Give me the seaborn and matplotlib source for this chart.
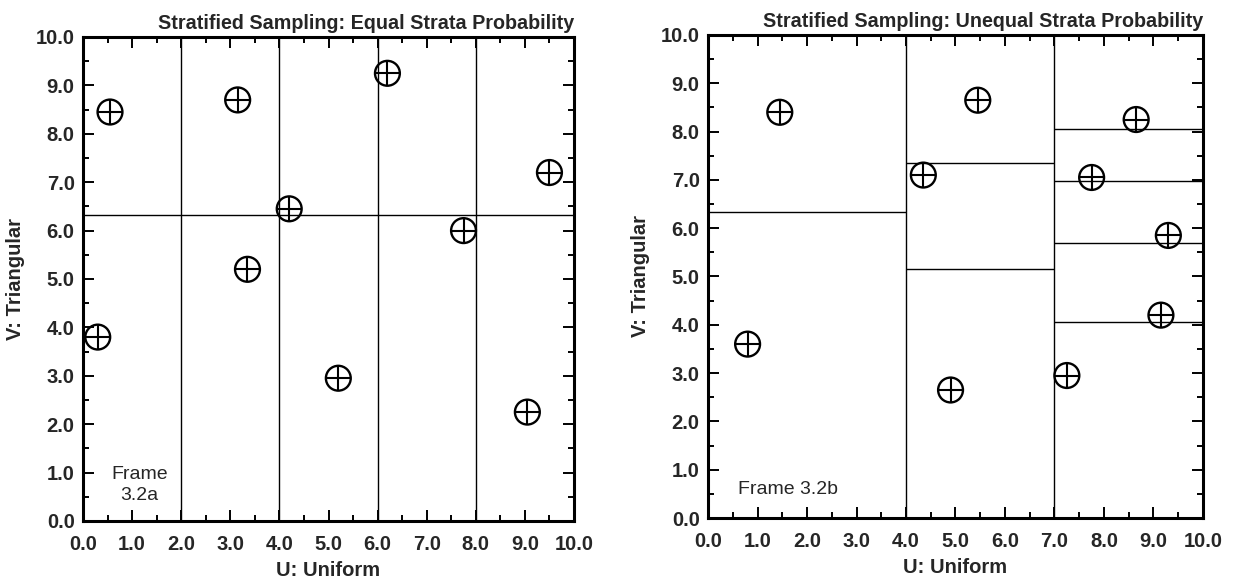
import matplotlib
matplotlib.use("Agg")
import matplotlib.pyplot as plt
import seaborn as sns
import pandas as pd
from matplotlib.ticker import MultipleLocator, FormatStrFormatter

sns.set_theme(style="ticks")
plt.rcParams['font.family'] = ['Liberation Sans', 'DejaVu Sans']

# ---- data ----
titles = ["Stratified Sampling: Equal Strata Probability",
          "Stratified Sampling: Unequal Strata Probability"]
frame_labels = ["Frame\n3.2a", "Frame 3.2b"]

# Panel a: sample points
a_u = [0.55, 0.30, 3.15, 3.35, 4.20, 5.20, 6.20, 7.75, 9.05, 9.50]
a_v = [8.45, 3.80, 8.70, 5.20, 6.45, 2.95, 9.25, 6.00, 2.25, 7.20]
# Panel a: strata boundaries
a_vlines = [2.0, 4.0, 6.0, 8.0]
a_hline_y = [6.33]
a_hline_x0 = [0.0]
a_hline_x1 = [10.0]

# Panel b: sample points
b_u = [1.45, 0.80, 4.35, 5.45, 4.90, 7.25, 7.75, 8.65, 9.30, 9.15]
b_v = [8.40, 3.60, 7.10, 8.65, 2.65, 2.95, 7.05, 8.25, 5.85, 4.20]
# Panel b: strata boundaries
b_vlines = [4.0, 7.0]
b_hline_y = [6.33, 7.35, 5.15, 8.05, 6.97, 5.70, 4.05]
b_hline_x0 = [0.0, 4.0, 4.0, 7.0, 7.0, 7.0, 7.0]
b_hline_x1 = [4.0, 7.0, 7.0, 10.0, 10.0, 10.0, 10.0]

W, H = 1236, 582
fig = plt.figure(figsize=(W / 100, H / 100), dpi=100)
ax_a = fig.add_axes([83 / W, 1 - 521 / H, (574 - 83) / W, (521 - 37) / H])
ax_b = fig.add_axes([708 / W, 1 - 518 / H, (1203 - 708) / W, (518 - 35) / H])

panels = [
    (ax_a, a_u, a_v, a_vlines, a_hline_y, a_hline_x0, a_hline_x1),
    (ax_b, b_u, b_v, b_vlines, b_hline_y, b_hline_x0, b_hline_x1),
]

for i, (ax, u, v, vls, hy, hx0, hx1) in enumerate(panels):
    df = pd.DataFrame({"U": u, "V": v})
    ax.vlines(vls, 0, 10, color="black", linewidth=1.0, zorder=1)
    ax.hlines(hy, hx0, hx1, color="black", linewidth=1.0, zorder=1)
    sns.scatterplot(data=df, x="U", y="V", ax=ax, marker="o", s=320,
                    facecolor="none", edgecolor="black", linewidth=1.7, zorder=3)
    sns.scatterplot(data=df, x="U", y="V", ax=ax, marker="+", s=320,
                    color="black", linewidth=1.5, zorder=3)
    ax.set_xlim(0, 10)
    ax.set_ylim(0, 10)
    ax.xaxis.set_major_locator(MultipleLocator(1.0))
    ax.yaxis.set_major_locator(MultipleLocator(1.0))
    ax.xaxis.set_minor_locator(MultipleLocator(0.5))
    ax.yaxis.set_minor_locator(MultipleLocator(0.5))
    ax.xaxis.set_major_formatter(FormatStrFormatter("%.1f"))
    ax.yaxis.set_major_formatter(FormatStrFormatter("%.1f"))
    ax.tick_params(which="both", direction="in", top=True, right=True,
                   color="black", width=1.4)
    ax.tick_params(which="major", length=8, labelsize=14.5)
    ax.tick_params(axis="x", which="major", pad=10)
    ax.tick_params(axis="y", which="major", pad=6)
    ax.tick_params(which="minor", length=4)
    for lab in ax.get_xticklabels() + ax.get_yticklabels():
        lab.set_fontweight("bold")
    for sp in ax.spines.values():
        sp.set_visible(True)
        sp.set_linewidth(2.2)
        sp.set_color("black")
    ax.set_xlabel("U: Uniform", fontsize=14.5, fontweight="bold", labelpad=5)
    ax.set_ylabel("V: Triangular", fontsize=14.5, fontweight="bold", labelpad=8)
    ax.set_title(titles[i], loc="right", fontsize=14.2, fontweight="bold", pad=6)

ax_a.text(1.15, 0.75, frame_labels[0], ha="center", va="center",
          fontsize=14, linespacing=1.3)
ax_b.text(0.6, 0.58, frame_labels[1], ha="left", va="center", fontsize=14)

fig.savefig("out.png", dpi=100)
